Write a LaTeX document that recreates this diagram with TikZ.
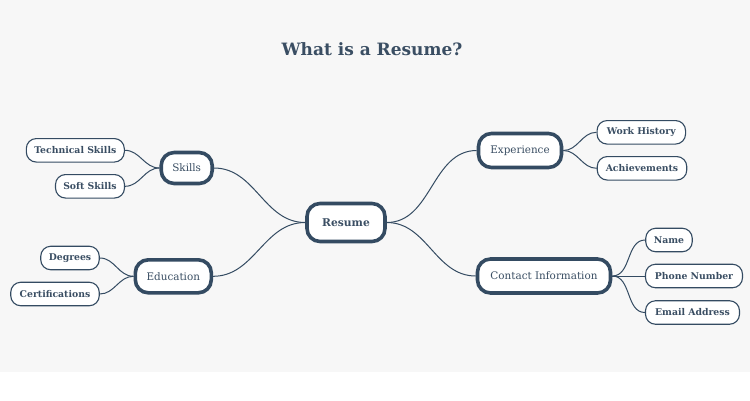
\documentclass[tikz,border=0pt]{standalone}
\usepackage{fontspec}
\setmainfont{DejaVu Serif}
\definecolor{ink}{HTML}{344B62}
\definecolor{txt}{HTML}{3A4E63}
\definecolor{bg}{HTML}{F7F7F7}
\tikzset{
  mainbox/.style={draw=ink, line width=3.6pt, fill=white, rounded corners=13pt, inner sep=0pt, text=txt, font=\fontsize{10.4}{12}\selectfont},
  leafbox/.style={draw=ink, line width=1.1pt, fill=white, rounded corners=10pt, inner sep=0pt, text=txt, font=\fontsize{9.3}{11}\selectfont\bfseries},
  link/.style={draw=ink, line width=1pt},
}
\begin{document}
\begin{tikzpicture}[x=1pt,y=-1pt]
\useasboundingbox (0,0) rectangle (750,400);
\fill[white] (0,0) rectangle (750,400);
\fill[bg] (0,0) rectangle (750,372);
\node[text=txt, font=\fontsize{17}{20}\selectfont\bfseries] (title) at (372,49) {What is a Resume?};

\node[mainbox, font=\fontsize{10.7}{12}\selectfont\bfseries, minimum width=78pt, minimum height=38pt] (resume) at (346,222.5) {Resume};
\node[mainbox, minimum width=51pt, minimum height=31pt] (skills) at (186.7,168) {Skills};
\node[mainbox, minimum width=76pt, minimum height=33pt] (edu) at (173.3,276.3) {Education};
\node[mainbox, minimum width=83pt, minimum height=34pt] (exp) at (520,150.5) {Experience};
\node[mainbox, minimum width=133pt, minimum height=34pt] (contact) at (544,276) {Contact Information};

\node[leafbox, minimum width=98pt, minimum height=23.5pt] (tech) at (75.3,150.3) {Technical Skills};
\node[leafbox, minimum width=69pt, minimum height=23.5pt] (soft) at (90,186.3) {Soft Skills};
\node[leafbox, minimum width=58.5pt, minimum height=23.5pt] (deg) at (70,258) {Degrees};
\node[leafbox, minimum width=88.5pt, minimum height=23.5pt] (cert) at (55,294) {Certifications};
\node[leafbox, minimum width=88.5pt, minimum height=23.5pt] (work) at (641.3,132.3) {Work History};
\node[leafbox, minimum width=89.5pt, minimum height=23.5pt] (ach) at (642,168.3) {Achievements};
\node[leafbox, minimum width=46.5pt, minimum height=23.5pt] (name) at (669,240) {Name};
\node[leafbox, minimum width=97pt, minimum height=23.5pt] (phone) at (694,276) {Phone Number};
\node[leafbox, minimum width=94pt, minimum height=23.5pt] (email) at (692.5,312.5) {Email Address};

\path[link] (resume.east) to[out=0,in=180] (exp.west);
\path[link] (resume.east) to[out=0,in=180] (contact.west);
\path[link] (resume.west) to[out=180,in=0] (skills.east);
\path[link] (resume.west) to[out=180,in=0] (edu.east);
\path[link] (skills.west) to[out=180,in=0] (tech.east);
\path[link] (skills.west) to[out=180,in=0] (soft.east);
\path[link] (edu.west) to[out=180,in=0] (deg.east);
\path[link] (edu.west) to[out=180,in=0] (cert.east);
\path[link] (exp.east) to[out=0,in=180] (work.west);
\path[link] (exp.east) to[out=0,in=180] (ach.west);
\path[link] (contact.east) to[out=0,in=180] (name.west);
\path[link] (contact.east) -- (phone.west);
\path[link] (contact.east) to[out=0,in=180] (email.west);
\end{tikzpicture}
\end{document}
